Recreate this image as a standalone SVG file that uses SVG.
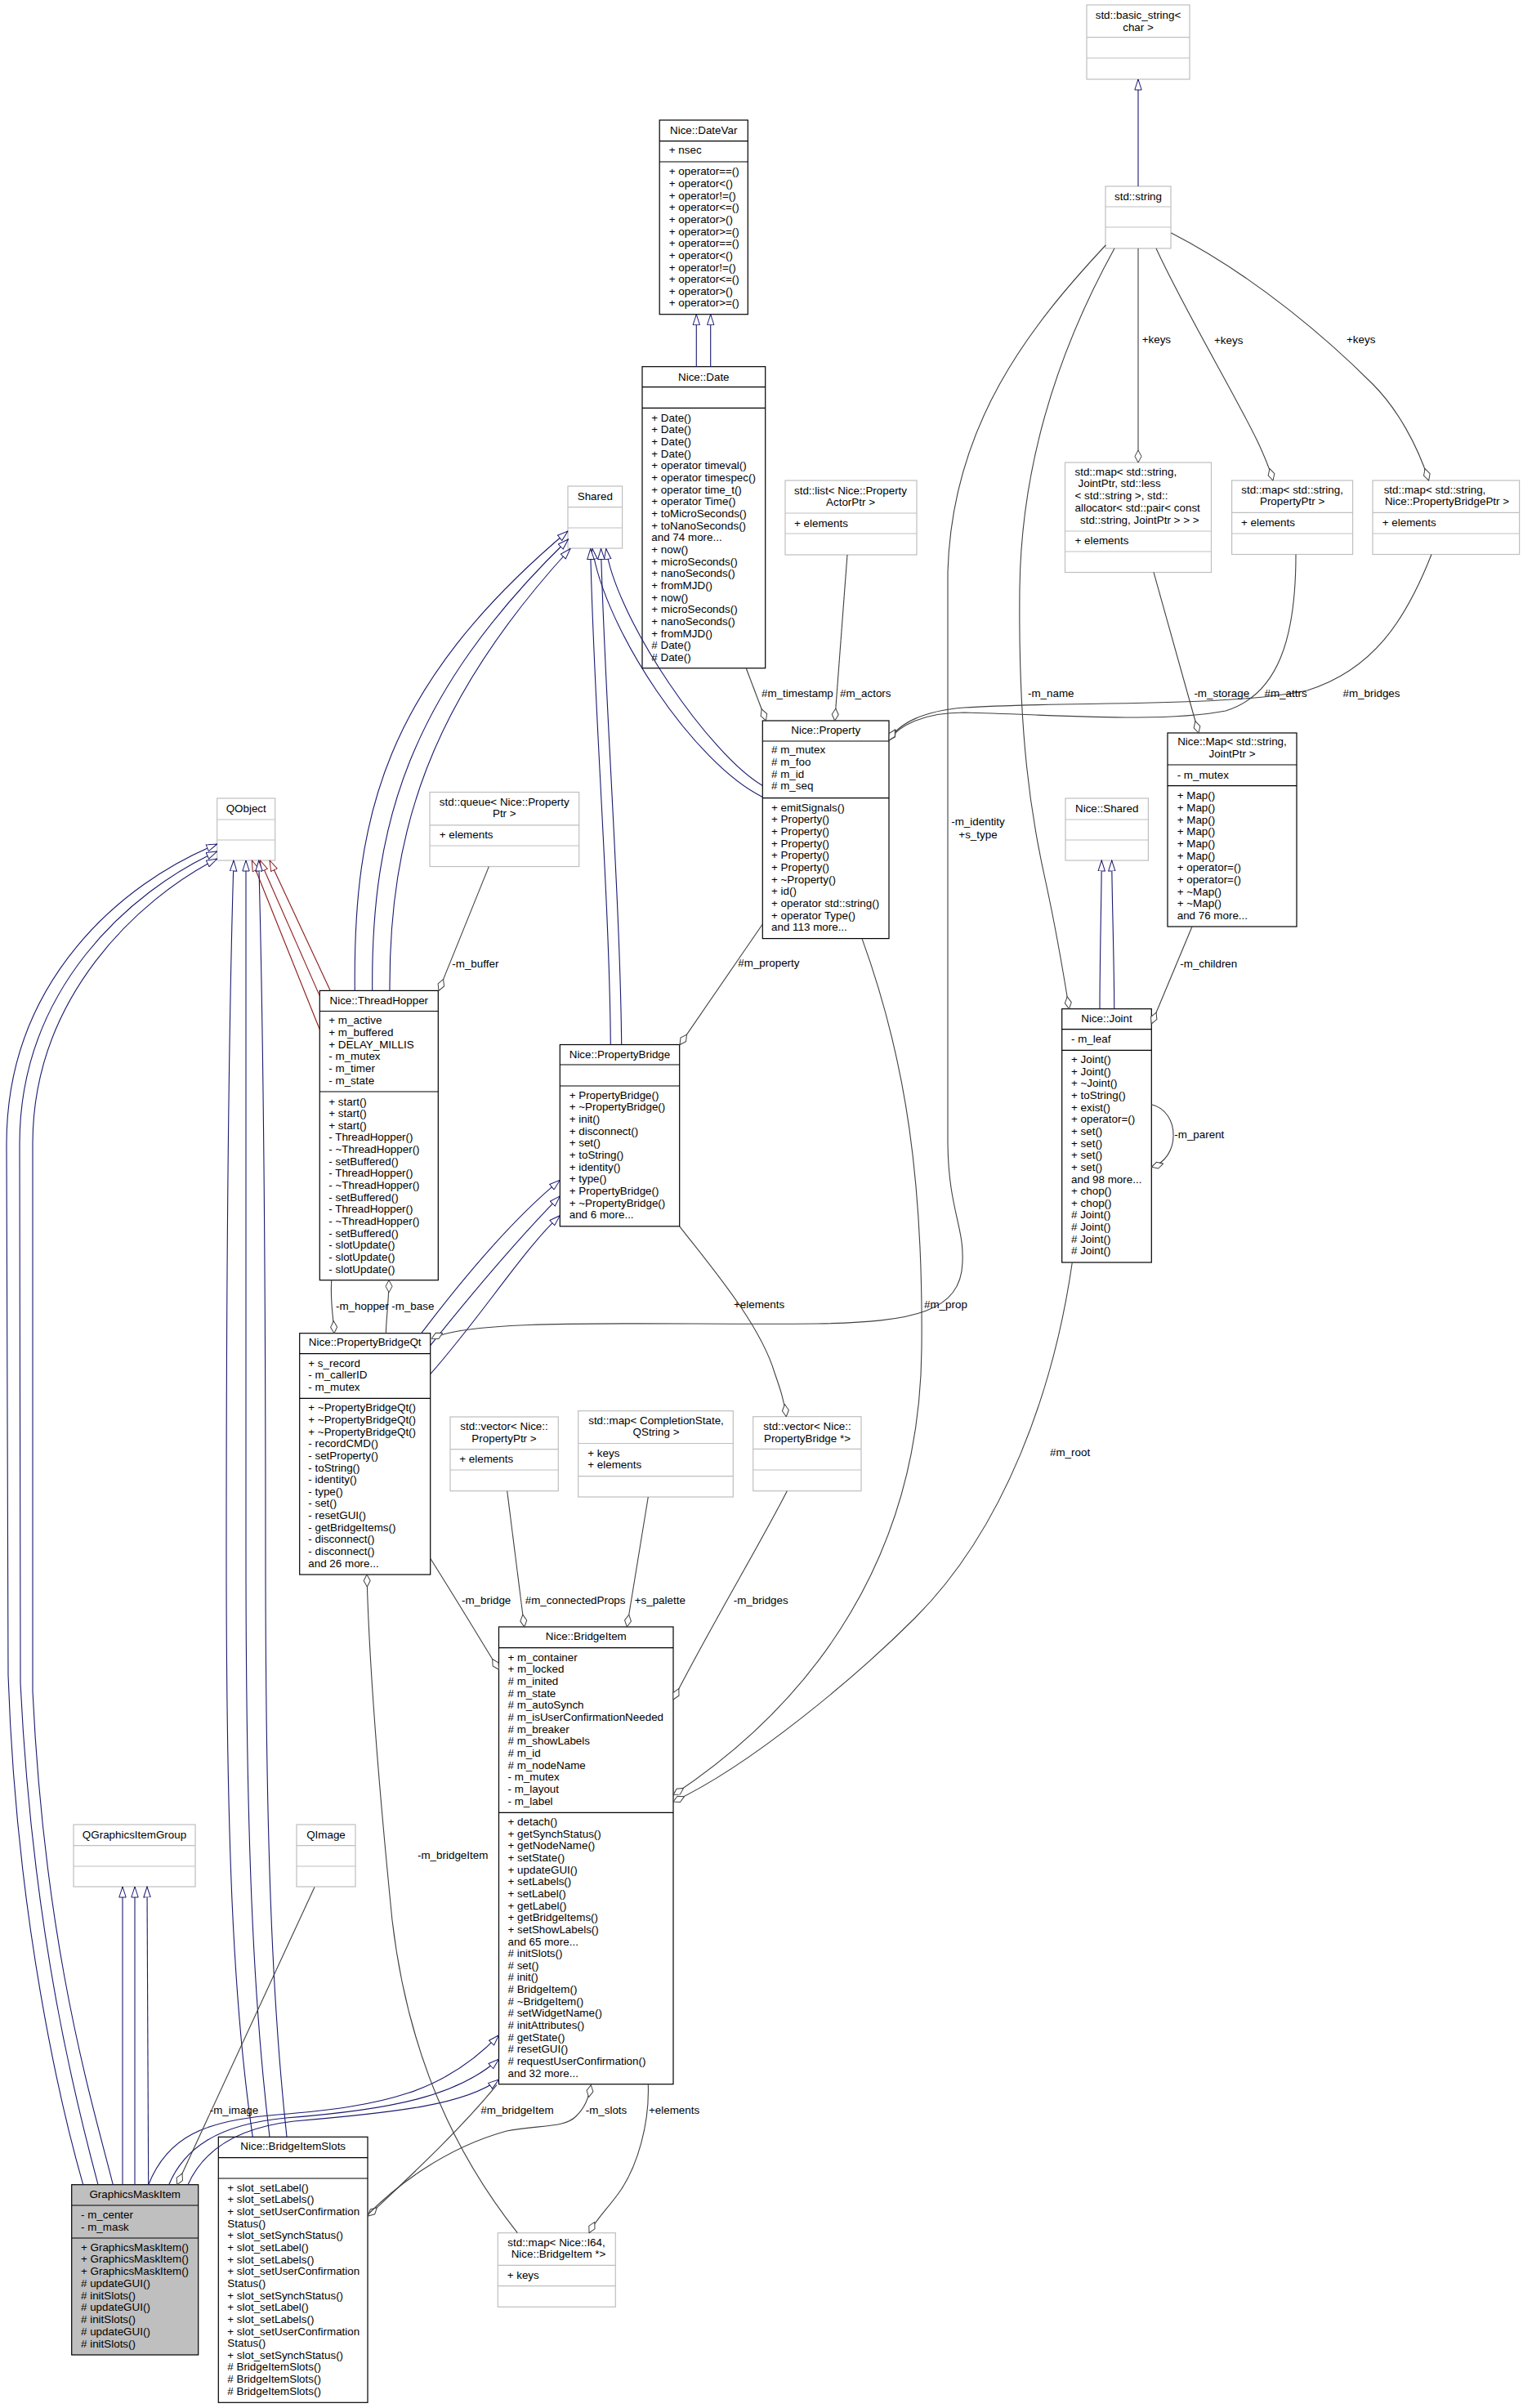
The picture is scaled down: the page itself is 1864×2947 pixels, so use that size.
<svg xmlns="http://www.w3.org/2000/svg" width="1864" height="2947" viewBox="0 0 1864 2947">
<style>
text{font-family:"Liberation Sans",Arial,sans-serif;font-size:13.4px;fill:#000}
.c{text-anchor:middle}
.g{fill:#fff;stroke:#bfbfbf;stroke-width:1.2}
.gl{stroke:#bfbfbf;stroke-width:1.2;fill:none}
.b{fill:#fff;stroke:#000;stroke-width:1.2}
.bl{stroke:#000;stroke-width:1.2;fill:none}
.gm{fill:#bfbfbf;stroke:#000;stroke-width:1.2}
.e{fill:none;stroke:#404040;stroke-width:1.1;marker-end:url(#dm)}
.i{fill:none;stroke:#191970;stroke-width:1.1;marker-end:url(#ti)}
.r{fill:none;stroke:#8b1a1a;stroke-width:1.1;marker-end:url(#tr)}
</style>
<defs>
<marker id="ti" viewBox="0 0 14 10" refX="13.5" refY="5" markerWidth="14" markerHeight="10" orient="auto" markerUnits="userSpaceOnUse"><path d="M0.5,0.8 L13.5,5 L0.5,9.2 Z" fill="#fff" stroke="#191970" stroke-width="1"/></marker>
<marker id="tr" viewBox="0 0 14 10" refX="13.5" refY="5" markerWidth="14" markerHeight="10" orient="auto" markerUnits="userSpaceOnUse"><path d="M0.5,0.8 L13.5,5 L0.5,9.2 Z" fill="#fff" stroke="#8b1a1a" stroke-width="1"/></marker>
<marker id="dm" viewBox="0 0 16 10" refX="15.5" refY="5" markerWidth="16" markerHeight="10" orient="auto" markerUnits="userSpaceOnUse"><path d="M0.5,5 L8,1 L15.5,5 L8,9 Z" fill="#fff" stroke="#404040" stroke-width="1"/></marker>
</defs>
<rect x="0" y="0" width="1864" height="2947" fill="#fff"/>

<g id="n_basic_string">
<rect class="g" x="1330" y="6" width="126" height="91"/>
<path class="gl" d="M1330,45.7H1456M1330,71H1456"/>
<text class="c" x="1393" y="23">std::basic_string&lt;</text>
<text class="c" x="1393" y="37.5">char &gt;</text>
</g>

<g id="n_string">
<rect class="g" x="1353" y="228" width="80" height="76"/>
<path class="gl" d="M1353,253H1433M1353,278H1433"/>
<text class="c" x="1393" y="244.5">std::string</text>
</g>

<g id="n_datevar">
<rect class="b" x="807.2" y="147" width="108.1" height="237.7"/>
<path class="bl" d="M807.2,172.7H915.3M807.2,198H915.3"/>
<text class="c" x="861.2" y="163.5">Nice::DateVar</text>
<text x="818.8" y="188">+ nsec</text>
<text x="818.8" y="214.3">+ operator==()</text>
<text x="818.8" y="228.95">+ operator&lt;()</text>
<text x="818.8" y="243.6">+ operator!=()</text>
<text x="818.8" y="258.25">+ operator&lt;=()</text>
<text x="818.8" y="272.9">+ operator&gt;()</text>
<text x="818.8" y="287.55">+ operator&gt;=()</text>
<text x="818.8" y="302.2">+ operator==()</text>
<text x="818.8" y="316.85">+ operator&lt;()</text>
<text x="818.8" y="331.5">+ operator!=()</text>
<text x="818.8" y="346.15">+ operator&lt;=()</text>
<text x="818.8" y="360.8">+ operator&gt;()</text>
<text x="818.8" y="375.45">+ operator&gt;=()</text>
</g>

<g id="n_date">
<rect class="b" x="786" y="448.7" width="150.7" height="369"/>
<path class="bl" d="M786,473.7H936.7M786,499.3H936.7"/>
<text class="c" x="861.3" y="465.5">Nice::Date</text>
<text x="797.3" y="515.5">+ Date()</text>
<text x="797.3" y="530.2">+ Date()</text>
<text x="797.3" y="544.9">+ Date()</text>
<text x="797.3" y="559.5">+ Date()</text>
<text x="797.3" y="574.2">+ operator timeval()</text>
<text x="797.3" y="588.9">+ operator timespec()</text>
<text x="797.3" y="603.6">+ operator time_t()</text>
<text x="797.3" y="618.3">+ operator Time()</text>
<text x="797.3" y="632.9">+ toMicroSeconds()</text>
<text x="797.3" y="647.6">+ toNanoSeconds()</text>
<text x="797.3" y="662.3">and 74 more...</text>
<text x="797.3" y="677">+ now()</text>
<text x="797.3" y="691.7">+ microSeconds()</text>
<text x="797.3" y="706.3">+ nanoSeconds()</text>
<text x="797.3" y="721">+ fromMJD()</text>
<text x="797.3" y="735.7">+ now()</text>
<text x="797.3" y="750.4">+ microSeconds()</text>
<text x="797.3" y="765.1">+ nanoSeconds()</text>
<text x="797.3" y="779.7">+ fromMJD()</text>
<text x="797.3" y="794.4"># Date()</text>
<text x="797.3" y="809.1"># Date()</text>
</g>

<g id="n_shared">
<rect class="g" x="695" y="595" width="66.6" height="76"/>
<path class="gl" d="M695,620.7H761.6M695,646H761.6"/>
<text class="c" x="728.3" y="611.5">Shared</text>
</g>

<g id="n_list">
<rect class="g" x="961" y="588" width="161" height="91"/>
<path class="gl" d="M961,628H1122M961,653H1122"/>
<text class="c" x="1041" y="604.5">std::list&lt; Nice::Property</text>
<text class="c" x="1041" y="619">ActorPtr &gt;</text>
<text x="972" y="644.5">+ elements</text>
</g>

<g id="n_map_joint">
<rect class="g" x="1303.5" y="566" width="179" height="134.5"/>
<path class="gl" d="M1303.5,650H1482.5M1303.5,675H1482.5"/>
<text x="1315.5" y="581.5">std::map&lt; std::string,</text>
<text x="1319.5" y="596">JointPtr, std::less</text>
<text x="1315.5" y="611">&lt; std::string &gt;, std::</text>
<text x="1315.5" y="625.5">allocator&lt; std::pair&lt; const</text>
<text x="1322" y="640.5">std::string, JointPtr &gt; &gt; &gt;</text>
<text x="1315.5" y="666">+ elements</text>
</g>

<g id="n_map_prop">
<rect class="g" x="1507.6" y="588" width="148" height="90.5"/>
<path class="gl" d="M1507.6,627.3H1655.6M1507.6,653H1655.6"/>
<text class="c" x="1581.6" y="603.5">std::map&lt; std::string,</text>
<text class="c" x="1581.6" y="618">PropertyPtr &gt;</text>
<text x="1519" y="644">+ elements</text>
</g>

<g id="n_map_bridge">
<rect class="g" x="1680" y="588" width="179.6" height="90.5"/>
<path class="gl" d="M1680,627.3H1859.6M1680,653H1859.6"/>
<text class="c" x="1756" y="603.5">std::map&lt; std::string,</text>
<text class="c" x="1771" y="618">Nice::PropertyBridgePtr &gt;</text>
<text x="1691.8" y="644">+ elements</text>
</g>

<g id="n_nice_shared">
<rect class="g" x="1304" y="977" width="101.4" height="76"/>
<path class="gl" d="M1304,1003H1405.4M1304,1028H1405.4"/>
<text class="c" x="1354.7" y="993.5">Nice::Shared</text>
</g>

<g id="n_queue">
<rect class="g" x="526" y="969.5" width="182.7" height="91"/>
<path class="gl" d="M526,1009.8H708.7M526,1035H708.7"/>
<text class="c" x="617.3" y="985.7">std::queue&lt; Nice::Property</text>
<text class="c" x="617.3" y="1000">Ptr &gt;</text>
<text x="537.7" y="1025.5">+ elements</text>
</g>

<g id="n_qobject">
<rect class="g" x="265.7" y="977" width="71" height="76"/>
<path class="gl" d="M265.7,1003H336.7M265.7,1028H336.7"/>
<text class="c" x="301.2" y="993.5">QObject</text>
</g>

<g id="n_property">
<rect class="b" x="933.3" y="882" width="154.7" height="266.6"/>
<path class="bl" d="M933.3,907H1088M933.3,976.7H1088"/>
<text class="c" x="1010.7" y="898">Nice::Property</text>
<text x="944" y="922.3"># m_mutex</text>
<text x="944" y="937"># m_foo</text>
<text x="944" y="951.6"># m_id</text>
<text x="944" y="966.3"># m_seq</text>
<text x="944" y="992.7">+ emitSignals()</text>
<text x="944" y="1007.35">+ Property()</text>
<text x="944" y="1022">+ Property()</text>
<text x="944" y="1036.65">+ Property()</text>
<text x="944" y="1051.3">+ Property()</text>
<text x="944" y="1065.95">+ Property()</text>
<text x="944" y="1080.6">+ ~Property()</text>
<text x="944" y="1095.25">+ id()</text>
<text x="944" y="1109.9">+ operator std::string()</text>
<text x="944" y="1124.55">+ operator Type()</text>
<text x="944" y="1139.2">and 113 more...</text>
</g>

<g id="n_nice_map">
<rect class="b" x="1429" y="897" width="158" height="237"/>
<path class="bl" d="M1429,936H1587M1429,961.7H1587"/>
<text class="c" x="1508" y="912">Nice::Map&lt; std::string,</text>
<text class="c" x="1508" y="926.7">JointPtr &gt;</text>
<text x="1440.7" y="952.7">- m_mutex</text>
<text x="1440.7" y="978.4">+ Map()</text>
<text x="1440.7" y="993.1">+ Map()</text>
<text x="1440.7" y="1007.7">+ Map()</text>
<text x="1440.7" y="1022.4">+ Map()</text>
<text x="1440.7" y="1037.1">+ Map()</text>
<text x="1440.7" y="1051.8">+ Map()</text>
<text x="1440.7" y="1066.4">+ operator=()</text>
<text x="1440.7" y="1081.1">+ operator=()</text>
<text x="1440.7" y="1095.8">+ ~Map()</text>
<text x="1440.7" y="1110.4">+ ~Map()</text>
<text x="1440.7" y="1125.1">and 76 more...</text>
</g>

<g id="n_threadhopper">
<rect class="b" x="391.3" y="1212.4" width="145" height="354.3"/>
<path class="bl" d="M391.3,1237.5H536.3M391.3,1336H536.3"/>
<text class="c" x="463.8" y="1229">Nice::ThreadHopper</text>
<text x="402.3" y="1253.2">+ m_active</text>
<text x="402.3" y="1267.9">+ m_buffered</text>
<text x="402.3" y="1282.5">+ DELAY_MILLIS</text>
<text x="402.3" y="1297.2">- m_mutex</text>
<text x="402.3" y="1311.9">- m_timer</text>
<text x="402.3" y="1326.5">- m_state</text>
<text x="402.3" y="1352.5">+ start()</text>
<text x="402.3" y="1367.15">+ start()</text>
<text x="402.3" y="1381.8">+ start()</text>
<text x="402.3" y="1396.45">- ThreadHopper()</text>
<text x="402.3" y="1411.1">- ~ThreadHopper()</text>
<text x="402.3" y="1425.75">- setBuffered()</text>
<text x="402.3" y="1440.4">- ThreadHopper()</text>
<text x="402.3" y="1455.05">- ~ThreadHopper()</text>
<text x="402.3" y="1469.7">- setBuffered()</text>
<text x="402.3" y="1484.35">- ThreadHopper()</text>
<text x="402.3" y="1499">- ~ThreadHopper()</text>
<text x="402.3" y="1513.65">- setBuffered()</text>
<text x="402.3" y="1528.3">- slotUpdate()</text>
<text x="402.3" y="1542.95">- slotUpdate()</text>
<text x="402.3" y="1557.6">- slotUpdate()</text>
</g>

<g id="n_propertybridge">
<rect class="b" x="685.3" y="1278.5" width="146.4" height="222.3"/>
<path class="bl" d="M685.3,1303H831.7M685.3,1329H831.7"/>
<text class="c" x="758.5" y="1294.5">Nice::PropertyBridge</text>
<text x="696.7" y="1344.5">+ PropertyBridge()</text>
<text x="696.7" y="1359.2">+ ~PropertyBridge()</text>
<text x="696.7" y="1373.9">+ init()</text>
<text x="696.7" y="1388.6">+ disconnect()</text>
<text x="696.7" y="1403.3">+ set()</text>
<text x="696.7" y="1418">+ toString()</text>
<text x="696.7" y="1432.6">+ identity()</text>
<text x="696.7" y="1447.3">+ type()</text>
<text x="696.7" y="1462">+ PropertyBridge()</text>
<text x="696.7" y="1476.7">+ ~PropertyBridge()</text>
<text x="696.7" y="1491.4">and 6 more...</text>
</g>

<g id="n_joint">
<rect class="b" x="1299.7" y="1234.7" width="109.6" height="310.3"/>
<path class="bl" d="M1299.7,1259.7H1409.3M1299.7,1285.3H1409.3"/>
<text class="c" x="1354.5" y="1250.7">Nice::Joint</text>
<text x="1311" y="1275.7">- m_leaf</text>
<text x="1311" y="1301">+ Joint()</text>
<text x="1311" y="1315.65">+ Joint()</text>
<text x="1311" y="1330.3">+ ~Joint()</text>
<text x="1311" y="1344.95">+ toString()</text>
<text x="1311" y="1359.6">+ exist()</text>
<text x="1311" y="1374.25">+ operator=()</text>
<text x="1311" y="1388.9">+ set()</text>
<text x="1311" y="1403.55">+ set()</text>
<text x="1311" y="1418.2">+ set()</text>
<text x="1311" y="1432.85">+ set()</text>
<text x="1311" y="1447.5">and 98 more...</text>
<text x="1311" y="1462.15">+ chop()</text>
<text x="1311" y="1476.8">+ chop()</text>
<text x="1311" y="1491.45"># Joint()</text>
<text x="1311" y="1506.1"># Joint()</text>
<text x="1311" y="1520.75"># Joint()</text>
<text x="1311" y="1535.4"># Joint()</text>
</g>

<g id="n_propertybridgeqt">
<rect class="b" x="366.7" y="1631.7" width="160" height="295.3"/>
<path class="bl" d="M366.7,1656.7H526.7M366.7,1711.3H526.7"/>
<text class="c" x="446.7" y="1646.7">Nice::PropertyBridgeQt</text>
<text x="377.3" y="1672.7">+ s_record</text>
<text x="377.3" y="1687.3">- m_callerID</text>
<text x="377.3" y="1702">- m_mutex</text>
<text x="377.3" y="1727.3">+ ~PropertyBridgeQt()</text>
<text x="377.3" y="1741.9">+ ~PropertyBridgeQt()</text>
<text x="377.3" y="1756.6">+ ~PropertyBridgeQt()</text>
<text x="377.3" y="1771.2">- recordCMD()</text>
<text x="377.3" y="1785.9">- setProperty()</text>
<text x="377.3" y="1800.5">- toString()</text>
<text x="377.3" y="1815.1">- identity()</text>
<text x="377.3" y="1829.8">- type()</text>
<text x="377.3" y="1844.4">- set()</text>
<text x="377.3" y="1859.1">- resetGUI()</text>
<text x="377.3" y="1873.7">- getBridgeItems()</text>
<text x="377.3" y="1888.3">- disconnect()</text>
<text x="377.3" y="1903">- disconnect()</text>
<text x="377.3" y="1917.6">and 26 more...</text>
</g>

<g id="n_vector_prop">
<rect class="g" x="551" y="1734" width="132.3" height="90.7"/>
<path class="gl" d="M551,1773.7H683.3M551,1799H683.3"/>
<text class="c" x="617" y="1750">std::vector&lt; Nice::</text>
<text class="c" x="617" y="1764.7">PropertyPtr &gt;</text>
<text x="562.3" y="1789.7">+ elements</text>
</g>

<g id="n_map_completion">
<rect class="g" x="707.7" y="1726.7" width="189.6" height="105.3"/>
<path class="gl" d="M707.7,1766.5H897.3M707.7,1806.7H897.3"/>
<text class="c" x="803" y="1743">std::map&lt; CompletionState,</text>
<text class="c" x="803" y="1757">QString &gt;</text>
<text x="719.3" y="1783">+ keys</text>
<text x="719.3" y="1797">+ elements</text>
</g>

<g id="n_vector_bridge">
<rect class="g" x="921.7" y="1733.7" width="132.3" height="91"/>
<path class="gl" d="M921.7,1773.3H1054M921.7,1799H1054"/>
<text class="c" x="988" y="1749.7">std::vector&lt; Nice::</text>
<text class="c" x="988" y="1764.7">PropertyBridge *&gt;</text>
</g>

<g id="n_bridgeitem">
<rect class="b" x="610.5" y="1991" width="213.5" height="559.7"/>
<path class="bl" d="M610.5,2016.7H824M610.5,2218.3H824"/>
<text class="c" x="717.3" y="2007">Nice::BridgeItem</text>
<text x="621.5" y="2032.7">+ m_container</text>
<text x="621.5" y="2047.4">+ m_locked</text>
<text x="621.5" y="2062"># m_inited</text>
<text x="621.5" y="2076.7"># m_state</text>
<text x="621.5" y="2091.4"># m_autoSynch</text>
<text x="621.5" y="2106"># m_isUserConfirmationNeeded</text>
<text x="621.5" y="2120.7"># m_breaker</text>
<text x="621.5" y="2135.4"># m_showLabels</text>
<text x="621.5" y="2150"># m_id</text>
<text x="621.5" y="2164.7"># m_nodeName</text>
<text x="621.5" y="2179.4">- m_mutex</text>
<text x="621.5" y="2194">- m_layout</text>
<text x="621.5" y="2208.7">- m_label</text>
<text x="621.5" y="2234">+ detach()</text>
<text x="621.5" y="2248.65">+ getSynchStatus()</text>
<text x="621.5" y="2263.3">+ getNodeName()</text>
<text x="621.5" y="2277.95">+ setState()</text>
<text x="621.5" y="2292.6">+ updateGUI()</text>
<text x="621.5" y="2307.25">+ setLabels()</text>
<text x="621.5" y="2321.9">+ setLabel()</text>
<text x="621.5" y="2336.55">+ getLabel()</text>
<text x="621.5" y="2351.2">+ getBridgeItems()</text>
<text x="621.5" y="2365.85">+ setShowLabels()</text>
<text x="621.5" y="2380.5">and 65 more...</text>
<text x="621.5" y="2395.15"># initSlots()</text>
<text x="621.5" y="2409.8"># set()</text>
<text x="621.5" y="2424.45"># init()</text>
<text x="621.5" y="2439.1"># BridgeItem()</text>
<text x="621.5" y="2453.75"># ~BridgeItem()</text>
<text x="621.5" y="2468.4"># setWidgetName()</text>
<text x="621.5" y="2483.05"># initAttributes()</text>
<text x="621.5" y="2497.7"># getState()</text>
<text x="621.5" y="2512.35"># resetGUI()</text>
<text x="621.5" y="2527"># requestUserConfirmation()</text>
<text x="621.5" y="2541.65">and 32 more...</text>
</g>

<g id="n_qgraphicsitemgroup">
<rect class="g" x="90" y="2233" width="149" height="76"/>
<path class="gl" d="M90,2258.7H239M90,2284H239"/>
<text class="c" x="164.5" y="2249.5">QGraphicsItemGroup</text>
</g>

<g id="n_qimage">
<rect class="g" x="363" y="2233" width="72" height="76"/>
<path class="gl" d="M363,2258.7H435M363,2284H435"/>
<text class="c" x="399" y="2249.5">QImage</text>
</g>

<g id="n_map_i64">
<rect class="g" x="609.3" y="2732.7" width="144" height="90.6"/>
<path class="gl" d="M609.3,2772.3H753.3M609.3,2797.7H753.3"/>
<text class="c" x="681" y="2749">std::map&lt; Nice::I64,</text>
<text class="c" x="683.5" y="2763">Nice::BridgeItem *&gt;</text>
<text x="620.7" y="2789">+ keys</text>
</g>

<g id="n_graphicsmaskitem">
<rect class="gm" x="87.7" y="2673.7" width="155" height="208.3"/>
<path class="bl" d="M87.7,2699H242.7M87.7,2739H242.7"/>
<text class="c" x="165.2" y="2689.7">GraphicsMaskItem</text>
<text x="99" y="2714.7">- m_center</text>
<text x="99" y="2729.5">- m_mask</text>
<text x="99" y="2754.7">+ GraphicsMaskItem()</text>
<text x="99" y="2769.45">+ GraphicsMaskItem()</text>
<text x="99" y="2784.2">+ GraphicsMaskItem()</text>
<text x="99" y="2798.95"># updateGUI()</text>
<text x="99" y="2813.7"># initSlots()</text>
<text x="99" y="2828.45"># updateGUI()</text>
<text x="99" y="2843.2"># initSlots()</text>
<text x="99" y="2857.95"># updateGUI()</text>
<text x="99" y="2872.7"># initSlots()</text>
</g>

<g id="n_bridgeitemslots">
<rect class="b" x="267.3" y="2615.3" width="182.7" height="325"/>
<path class="bl" d="M267.3,2640.7H450M267.3,2666H450"/>
<text class="c" x="358.7" y="2630.7">Nice::BridgeItemSlots</text>
<text x="278.3" y="2681.7">+ slot_setLabel()</text>
<text x="278.3" y="2696.35">+ slot_setLabels()</text>
<text x="278.3" y="2711">+ slot_setUserConfirmation</text>
<text x="278.3" y="2725.65">Status()</text>
<text x="278.3" y="2740.3">+ slot_setSynchStatus()</text>
<text x="278.3" y="2754.95">+ slot_setLabel()</text>
<text x="278.3" y="2769.6">+ slot_setLabels()</text>
<text x="278.3" y="2784.25">+ slot_setUserConfirmation</text>
<text x="278.3" y="2798.9">Status()</text>
<text x="278.3" y="2813.55">+ slot_setSynchStatus()</text>
<text x="278.3" y="2828.2">+ slot_setLabel()</text>
<text x="278.3" y="2842.85">+ slot_setLabels()</text>
<text x="278.3" y="2857.5">+ slot_setUserConfirmation</text>
<text x="278.3" y="2872.15">Status()</text>
<text x="278.3" y="2886.8">+ slot_setSynchStatus()</text>
<text x="278.3" y="2901.45"># BridgeItemSlots()</text>
<text x="278.3" y="2916.1"># BridgeItemSlots()</text>
<text x="278.3" y="2930.75"># BridgeItemSlots()</text>
</g>

<g id="connectors">
<!-- inheritance -->
<path class="i" d="M1393,228 L1393,97"/>
<path class="i" d="M852.3,448.7 L852.3,384.7"/>
<path class="i" d="M869.7,448.7 L869.7,384.7"/>
<path class="i" d="M1346,1234.7 C1346,1180 1348,1100 1348.3,1053"/>
<path class="i" d="M1363.7,1234.7 C1363.7,1180 1361,1100 1360.7,1053"/>
<path class="i" d="M434.3,1212.4 C432,1000 470,840 695,650"/>
<path class="i" d="M455.7,1212.4 C454,1010 500,850 695.5,660"/>
<path class="i" d="M477,1212.4 C476,1020 525,860 698,671.5"/>
<path class="i" d="M933.3,961.5 C870,925 755,760 741.7,671.5"/>
<path class="i" d="M933.3,975.4 C850,935 740,770 725,671.5"/>
<path class="i" d="M747.3,1278.5 C746,1100 726,850 722.7,671.5"/>
<path class="i" d="M760.7,1278.5 C759,1100 740,850 735.5,671.5"/>
<path class="i" d="M515.7,1631.7 C570,1560 630,1490 685.3,1444.4"/>
<path class="i" d="M526.7,1646.7 C580,1580 640,1510 685.3,1463.9"/>
<path class="i" d="M526.7,1681.7 C590,1610 640,1530 685.3,1487.7"/>
<path class="r" d="M404.3,1212.4 L330,1053"/>
<path class="r" d="M391.3,1218.9 L318.3,1053"/>
<path class="r" d="M391.3,1260 L308.3,1053"/>
<path class="i" d="M309.3,2615.3 C285,2450 277,2250 277,1900 C277,1500 280,1250 286,1053"/>
<path class="i" d="M330,2615.3 C310,2450 301,2250 301,1900 L301,1053"/>
<path class="i" d="M351,2615.3 C333,2450 325,2250 325,1900 C325,1500 322,1250 316.7,1053"/>
<path class="i" d="M150,2673.7 L150,2309"/>
<path class="i" d="M165,2673.7 L165,2309"/>
<path class="i" d="M181.7,2673.7 L180,2309"/>
<path class="i" d="M101.7,2673.7 C75,2580 20,2350 10,2050 L8,1400 C8,1200 150,1080 265.7,1033"/>
<path class="i" d="M120,2673.7 C95,2580 40,2370 25,2060 L24,1400 C24,1210 160,1090 265.7,1042"/>
<path class="i" d="M138.3,2673.7 C115,2580 55,2390 40,2070 L40,1400 C40,1220 170,1100 265.7,1051"/>
<path class="i" d="M181.7,2673.7 C205,2615 250,2595 340,2588 C470,2578 545,2560 610.5,2490.7"/>
<path class="i" d="M206.7,2673.7 C225,2630 265,2600 350,2592 C480,2582 560,2565 610.5,2520"/>
<path class="i" d="M230,2673.7 C245,2640 280,2605 360,2596 C490,2585 570,2575 610.5,2545"/>
<!-- associations -->
<path class="e" d="M1393,304 L1393,566"/>
<path class="e" d="M1415,304 C1450,380 1510,480 1539,540 C1546,555 1553,570 1558,588"/>
<path class="e" d="M1433.3,285 C1540,340 1630,420 1680,470 C1710,500 1735,545 1748.6,588"/>
<path class="e" d="M1364,304 C1300,420 1250,560 1248,720 C1246,900 1262,1000 1280,1080 C1293,1140 1303,1200 1308.5,1234.7"/>
<path class="e" d="M1353.3,300 C1260,400 1165,520 1160,700 L1160,1400 C1161,1480 1180,1500 1178,1545 C1176,1605 1120,1618 1000,1620 C800,1622 580,1612 528.3,1638.3"/>
<path class="e" d="M913.3,818 L937.5,882"/>
<path class="e" d="M1037,679 L1021.7,882"/>
<path class="e" d="M1586,678.5 C1586,780 1565,850 1500,870 C1420,885 1300,875 1180,872 C1130,872 1100,888 1088,906"/>
<path class="e" d="M1752,678.5 C1720,760 1680,820 1600,845 C1500,866 1300,858 1180,866 C1130,870 1100,885 1088,906"/>
<path class="e" d="M1412,700.4 L1467,897"/>
<path class="e" d="M1459,1134 L1409.3,1253"/>
<path class="e" d="M1409.3,1351.7 C1445,1360 1445,1418 1409.3,1428.3"/>
<path class="e" d="M598.3,1060.6 L537,1212.4"/>
<path class="e" d="M405.7,1566.7 C404,1595 408,1610 409,1631.7"/>
<path class="e" d="M472.3,1631.7 C473,1610 476,1590 476,1566.7"/>
<path class="e" d="M933.3,1131 L832,1278.5"/>
<path class="e" d="M831.7,1500.8 C870,1550 930,1620 948,1680 C955,1700 960,1715 962.3,1733.7"/>
<path class="e" d="M1055,1148.6 C1110,1300 1130,1450 1128,1650 C1126,1900 1000,2080 824,2196.7"/>
<path class="e" d="M1312.3,1545 C1290,1700 1230,1870 1120,1980 C1050,2050 920,2160 824,2205"/>
<path class="e" d="M526.7,1907.3 C560,1960 590,2010 610.5,2043.3"/>
<path class="e" d="M620.7,1824.7 L641.7,1991"/>
<path class="e" d="M793.3,1832 L767.3,1991"/>
<path class="e" d="M963.3,1824.7 C930,1890 870,1990 824,2080"/>
<path class="e" d="M633.3,2732.7 C560,2640 500,2520 480,2350 C465,2200 452,2050 449,1927"/>
<path class="e" d="M385,2309.5 L216.7,2673.7"/>
<path class="e" d="M608,2551.7 C560,2610 500,2665 450.5,2712"/>
<path class="e" d="M450.5,2710 C480,2680 540,2630 620,2608 C660,2600 690,2605 705,2590 C715,2580 720,2570 723.3,2551.7"/>
<path class="e" d="M793.3,2550.7 C795,2600 780,2650 760,2680 C745,2702 730,2715 721,2732.7"/>
<!-- labels -->
<text x="1397.7" y="420">+keys</text>
<text x="1486" y="420.7">+keys</text>
<text x="1648" y="420">+keys</text>
<text x="1258" y="853">-m_name</text>
<text x="1461.4" y="853">-m_storage</text>
<text x="1547.5" y="853">#m_attrs</text>
<text x="1643.5" y="853">#m_bridges</text>
<text x="932" y="853">#m_timestamp</text>
<text x="1028" y="853">#m_actors</text>
<text class="c" x="1197" y="1010">-m_identity</text>
<text class="c" x="1197" y="1026">+s_type</text>
<text x="553.3" y="1183.8">-m_buffer</text>
<text x="903.3" y="1183.4">#m_property</text>
<text x="1444.3" y="1184">-m_children</text>
<text x="1437.3" y="1393">-m_parent</text>
<text x="411" y="1603">-m_hopper</text>
<text x="479.3" y="1603">-m_base</text>
<text x="898" y="1601">+elements</text>
<text x="1131" y="1601">#m_prop</text>
<text x="1285" y="1782">#m_root</text>
<text x="565" y="1963">-m_bridge</text>
<text x="642.7" y="1963">#m_connectedProps</text>
<text x="776.7" y="1963">+s_palette</text>
<text x="897.7" y="1963">-m_bridges</text>
<text x="511" y="2274.7">-m_bridgeItem</text>
<text x="256.7" y="2586.7">-m_image</text>
<text x="588.3" y="2586.7">#m_bridgeItem</text>
<text x="716.7" y="2586.7">-m_slots</text>
<text x="794" y="2586.7">+elements</text>
</g>
</svg>
